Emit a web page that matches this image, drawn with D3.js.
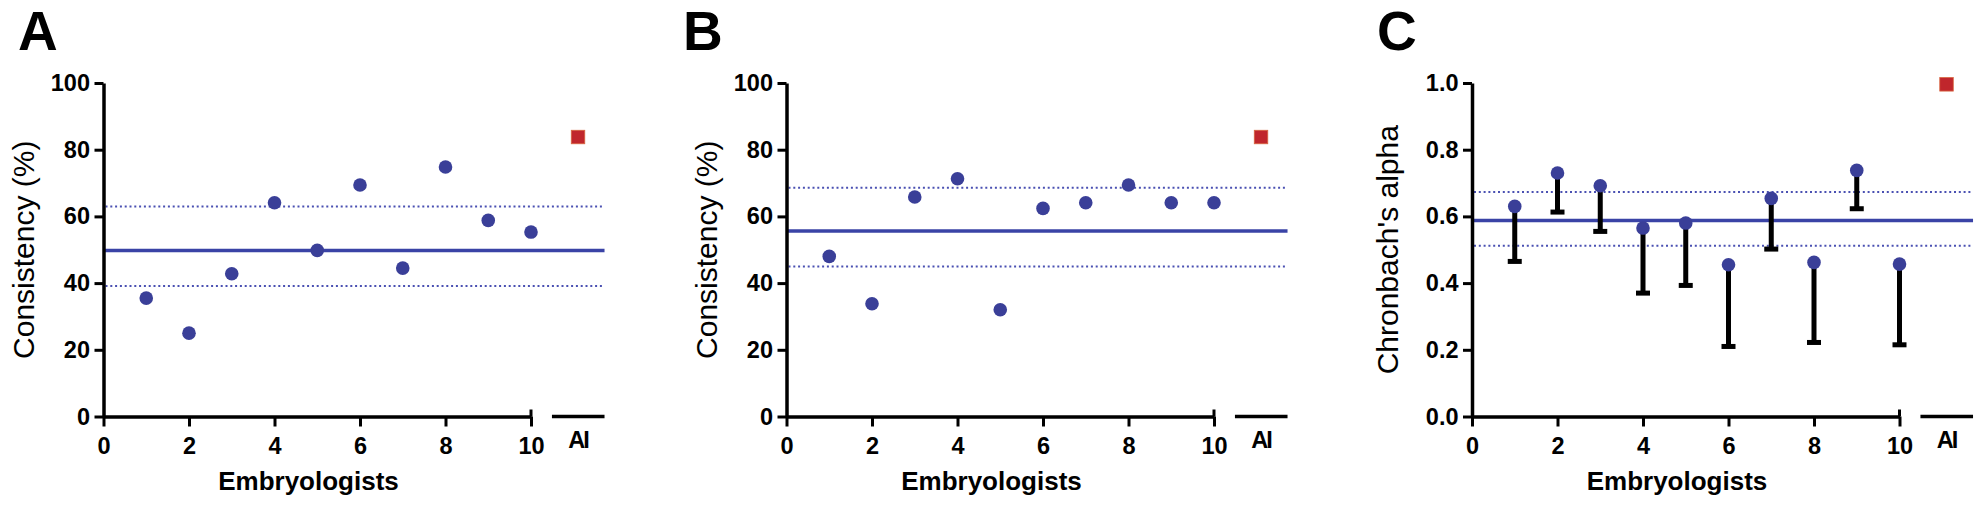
<!DOCTYPE html>
<html>
<head>
<meta charset="utf-8">
<script src="https://cdn.jsdelivr.net/npm/d3@7"></script>
<style>
  html, body { margin: 0; padding: 0; background: #fff; }
  svg { display: block; }
  text { font-family: "Liberation Sans", Arial, sans-serif; }
</style>
</head>
<body>
<svg id="chart" width="1983" height="512"></svg>
<script>
// ---------------- DATA ----------------
const embryologists = [1, 2, 3, 4, 5, 6, 7, 8, 9, 10];
const xTickValues = [0, 2, 4, 6, 8, 10];
const aiLabel = "AI";

// Panel A: consistency (%)
const consistencyA = [35.5, 25, 42.8, 64.1, 49.8, 69.4, 44.5, 74.8, 58.8, 55.3];
const aiConsistencyA = 83.8;
const meanA = 49.8, upperA = 63.0, lowerA = 39.1;

// Panel B: consistency (%)
const consistencyB = [48, 33.8, 65.8, 71.3, 32, 62.4, 64.1, 69.4, 64.1, 64.1];
const aiConsistencyB = 83.8;
const meanB = 55.6, upperB = 68.6, lowerB = 45.0;

// Panel C: Chronbach's alpha with lower error bound
const alphaC = [0.63, 0.73, 0.692, 0.565, 0.58, 0.455, 0.654, 0.462, 0.738, 0.457];
const alphaLowerC = [0.465, 0.613, 0.555, 0.37, 0.393, 0.21, 0.502, 0.222, 0.623, 0.215];
const aiAlphaC = 0.996;
const meanC = 0.588, upperC = 0.673, lowerC = 0.512;

const yTicksPct = [0, 20, 40, 60, 80, 100];
const yTicksAlpha = [0, 0.2, 0.4, 0.6, 0.8, 1.0];

const panelLetters = ["A", "B", "C"];
const yTitles = ["Consistency (%)", "Consistency (%)", "Chronbach's alpha"];
const xTitle = "Embryologists";

// ---------------- STYLE ----------------
const dotColor = "#3a3f98";
const meanColor = "#3a43a6";
const bandColor = "#4a50b2";
const aiColor = "#c0262c";

const svg = d3.select("#chart");

const AI_POS = 11.1, AI_SEG = [10.49, 11.72];
const plotTop = 83, plotBottom = 416.5, plotW = 427.5;
const tickFont = 23.5;

function drawPanel(cfg) {
  const g = svg.append("g").attr("transform", `translate(${cfg.x0},0)`);
  const x = d3.scaleLinear().domain([0, 10]).range([0, plotW]);
  const y = d3.scaleLinear().domain(cfg.yDomain).range([plotBottom, plotTop]);

  // panel letter
  svg.append("text").attr("x", cfg.letterX).attr("y", 50)
    .attr("font-size", 55).attr("font-weight", "bold").text(cfg.letter);

  // reference lines
  const lineEnd = x(AI_SEG[1]);
  g.append("line").attr("x1", 2).attr("x2", lineEnd)
    .attr("y1", y(cfg.upper)).attr("y2", y(cfg.upper))
    .attr("stroke", bandColor).attr("stroke-width", 2).attr("stroke-dasharray", "2,2.8");
  g.append("line").attr("x1", 2).attr("x2", lineEnd)
    .attr("y1", y(cfg.lower)).attr("y2", y(cfg.lower))
    .attr("stroke", bandColor).attr("stroke-width", 2).attr("stroke-dasharray", "2,2.8");
  g.append("line").attr("x1", 0).attr("x2", lineEnd)
    .attr("y1", y(cfg.mean)).attr("y2", y(cfg.mean))
    .attr("stroke", meanColor).attr("stroke-width", 3.5);

  // x axis
  const xAxis = d3.axisBottom(x).tickValues(xTickValues).tickSize(10)
    .tickSizeOuter(0).tickPadding(11).tickFormat(d3.format("d"));
  const xg = g.append("g").attr("transform", `translate(0,${plotBottom})`).call(xAxis);
  xg.select(".domain").attr("stroke", "#000").attr("stroke-width", 3.5);
  xg.selectAll(".tick line").attr("stroke", "#000").attr("stroke-width", 3);
  xg.selectAll(".tick text").attr("fill", "#000").attr("font-size", tickFont)
    .attr("font-weight", "bold").attr("font-family", "Liberation Sans, Arial, sans-serif");
  // end cap at 10 (extends above too)
  xg.append("line").attr("x1", x(10)).attr("x2", x(10)).attr("y1", -7).attr("y2", 0)
    .attr("stroke", "#000").attr("stroke-width", 3);
  // AI segment
  xg.append("line").attr("x1", x(AI_SEG[0])).attr("x2", x(AI_SEG[1]))
    .attr("y1", 0).attr("y2", 0).attr("stroke", "#000").attr("stroke-width", 3.5);
  xg.append("text").attr("x", x(AI_POS)).attr("y", 31)
    .attr("text-anchor", "middle").attr("font-size", tickFont).attr("font-weight", "bold")
    .attr("letter-spacing", -2).attr("fill", "#000").text(aiLabel);

  // y axis
  const yAxis = d3.axisLeft(y).tickValues(cfg.yTicks).tickSize(9)
    .tickSizeOuter(0).tickPadding(4.5).tickFormat(cfg.fmt);
  const yg = g.append("g").call(yAxis);
  yg.select(".domain").attr("stroke", "#000").attr("stroke-width", 3.5);
  yg.selectAll(".tick line").attr("stroke", "#000").attr("stroke-width", 3);
  yg.selectAll(".tick text").attr("fill", "#000").attr("font-size", tickFont)
    .attr("font-weight", "bold").attr("font-family", "Liberation Sans, Arial, sans-serif");

  // axis titles
  g.append("text")
    .attr("transform", `translate(${-cfg.yTitleOff},${(plotTop + plotBottom) / 2}) rotate(-90)`)
    .attr("text-anchor", "middle").attr("font-size", 30).attr("fill", "#000")
    .text(cfg.yTitle);
  g.append("text").attr("x", 205).attr("y", 490).attr("text-anchor", "middle")
    .attr("font-size", 26).attr("font-weight", "bold").attr("fill", "#000").text(xTitle);

  // error bars (panel C)
  if (cfg.lowerBars) {
    const eb = g.append("g");
    eb.selectAll("rect.bar").data(embryologists).join("rect").attr("class", "bar")
      .attr("x", d => x(d) - 2.5).attr("width", 5)
      .attr("y", (d, i) => y(cfg.values[i]))
      .attr("height", (d, i) => y(cfg.lowerBars[i]) - y(cfg.values[i]))
      .attr("fill", "#000");
    eb.selectAll("rect.cap").data(embryologists).join("rect").attr("class", "cap")
      .attr("x", d => x(d) - 7).attr("width", 14)
      .attr("y", (d, i) => y(cfg.lowerBars[i]) - 2.5).attr("height", 5)
      .attr("fill", "#000");
  }

  // points
  g.selectAll("circle.pt").data(embryologists).join("circle").attr("class", "pt")
    .attr("cx", d => x(d)).attr("cy", (d, i) => y(cfg.values[i]))
    .attr("r", 6.8).attr("fill", dotColor);

  // AI square
  const s = 13.5;
  g.append("rect").attr("x", x(AI_POS) - s / 2).attr("y", y(cfg.ai) - s / 2)
    .attr("width", s).attr("height", s).attr("fill", aiColor)
    .attr("stroke", "#d8653f").attr("stroke-width", 0.8);
}

drawPanel({ x0: 103.5, letter: panelLetters[0], letterX: 18, yDomain: [0, 100],
  yTicks: yTicksPct, fmt: d3.format("d"), yTitle: yTitles[0], yTitleOff: 70,
  values: consistencyA, ai: aiConsistencyA, mean: meanA, upper: upperA, lower: lowerA });
drawPanel({ x0: 786.5, letter: panelLetters[1], letterX: 683, yDomain: [0, 100],
  yTicks: yTicksPct, fmt: d3.format("d"), yTitle: yTitles[1], yTitleOff: 70,
  values: consistencyB, ai: aiConsistencyB, mean: meanB, upper: upperB, lower: lowerB });
drawPanel({ x0: 1472, letter: panelLetters[2], letterX: 1377, yDomain: [0, 1],
  yTicks: yTicksAlpha, fmt: d3.format(".1f"), yTitle: yTitles[2], yTitleOff: 74,
  values: alphaC, lowerBars: alphaLowerC, ai: aiAlphaC, mean: meanC, upper: upperC, lower: lowerC });
</script>
</body>
</html>
